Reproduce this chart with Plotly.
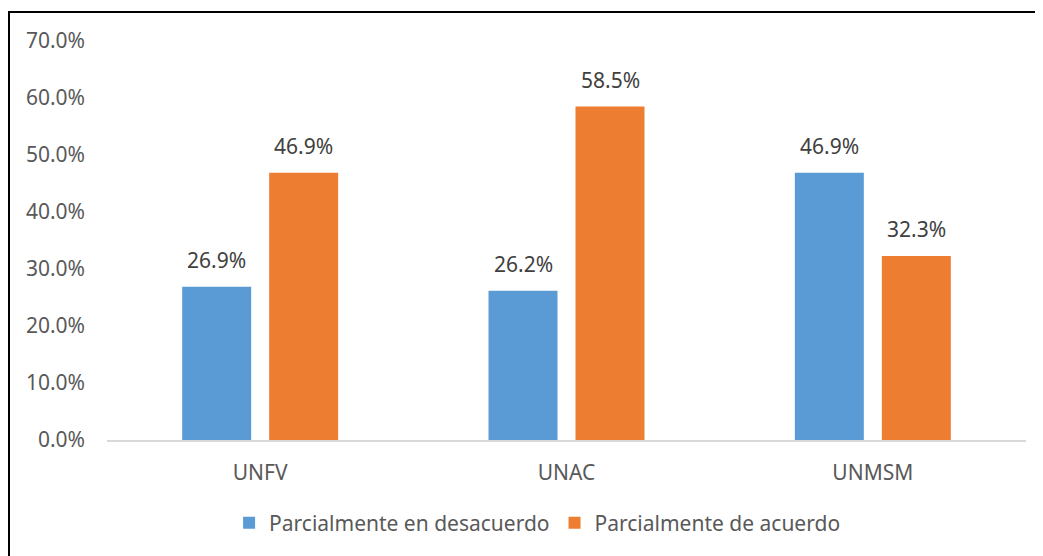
import plotly.graph_objects as go

categories = ["UNFV", "UNAC", "UNMSM"]
desacuerdo = [0.269, 0.262, 0.469]
acuerdo = [0.469, 0.585, 0.323]
series_names = ["Parcialmente en desacuerdo", "Parcialmente de acuerdo"]
colors = ["#5B9BD5", "#ED7D31"]
y_ticks = [0, 0.1, 0.2, 0.3, 0.4, 0.5, 0.6, 0.7]

# page has an 8px body margin; figure sized/positioned to compensate
W, H = 1035, 548
L, R, T, B = 99, 17, 33, 116
pw, ph = W - L - R, H - T - B

fig = go.Figure()
for name, vals, c in zip(series_names, [desacuerdo, acuerdo], colors):
    fig.add_trace(go.Bar(x=categories, y=vals, name=name, marker_color=c,
                         marker_line_width=0))

font = "Noto Sans"
ann = []
for vals, shift in [(desacuerdo, -43.5), (acuerdo, 43.5)]:
    for cat, v in zip(categories, vals):
        ann.append(dict(x=cat, y=v, xref="x", yref="y", text=f"{v*100:.1f}%",
                        showarrow=False, xshift=shift, yanchor="bottom", yshift=11,
                        font=dict(family=font, size=21, color="#404040")))

fig.update_layout(
    width=W, height=H,
    margin=dict(l=L, r=R, t=T, b=B),
    paper_bgcolor="white", plot_bgcolor="white",
    barmode="group", bargap=0.432, bargroupgap=0.207,
    font=dict(family=font, size=21, color="#595959"),
    annotations=ann,
    legend=dict(orientation="h", x=0.468, xanchor="center", y=-0.208, yanchor="middle",
                font=dict(family=font, size=21, color="#595959"), itemwidth=30,
                traceorder="normal"),
    xaxis=dict(showline=True, linecolor="#d9d9d9", linewidth=1.5, ticks="",
               showgrid=False, ticklabelstandoff=13,
               tickfont=dict(family=font, size=21, color="#595959")),
    yaxis=dict(range=[0, 0.7], tickvals=y_ticks, tickformat=".1%", showgrid=False,
               showline=False, zeroline=False, ticks="", ticklabelstandoff=21,
               tickfont=dict(family=font, size=21, color="#595959")),
    shapes=[dict(type="rect", xref="paper", yref="paper",
                 x0=(1 - L) / pw, x1=(1033 - L) / pw,
                 y0=-0.5, y1=(T + ph - 4) / ph,
                 line=dict(color="black", width=2), fillcolor="rgba(0,0,0,0)")],
)

fig.write_html("out.html")
